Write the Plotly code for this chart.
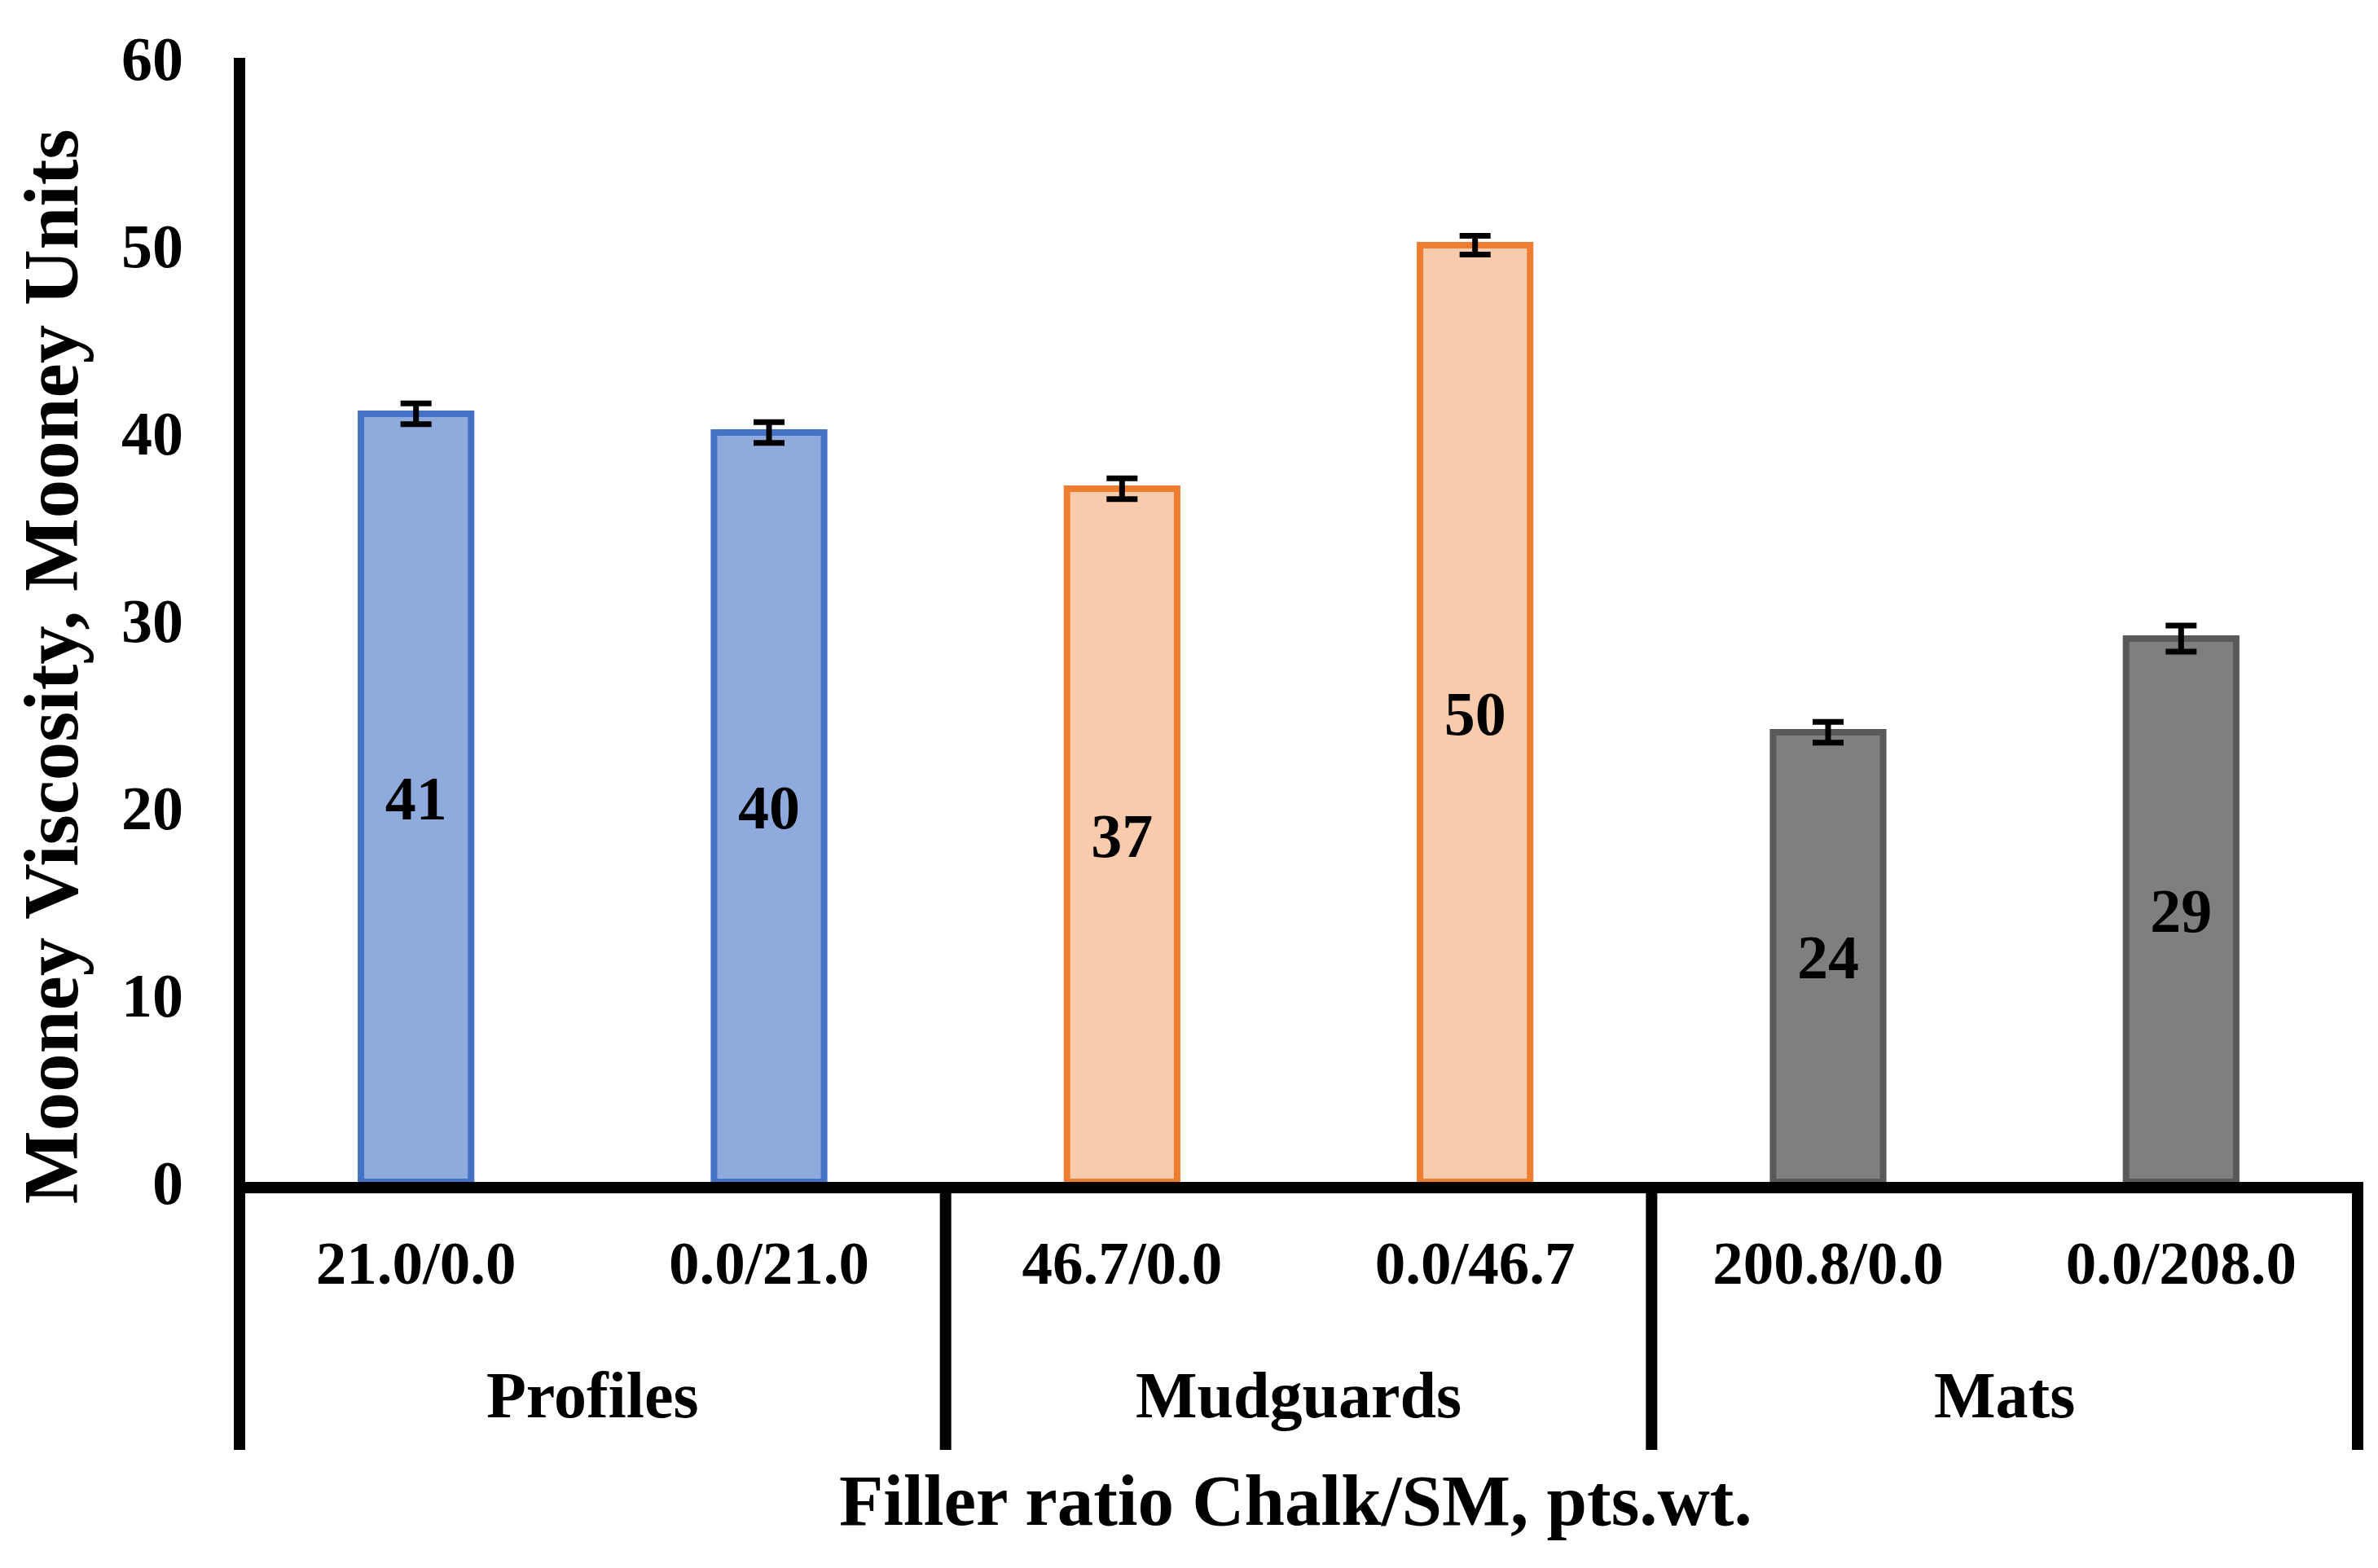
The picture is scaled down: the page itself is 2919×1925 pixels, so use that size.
import plotly.graph_objects as go

# ---------------- data ----------------
ratios = ["21.0/0.0", "0.0/21.0", "46.7/0.0", "0.0/46.7", "200.8/0.0", "0.0/208.0"]
groups = ["Profiles", "Mudguards", "Mats"]
group_of = ["Profiles", "Profiles", "Mudguards", "Mudguards", "Mats", "Mats"]
viscosity = [41, 40, 37, 50, 24, 29]
errors = [0.55, 0.55, 0.55, 0.5, 0.55, 0.7]
y_ticks = [0, 10, 20, 30, 40, 50, 60]

fill_by_group = {"Profiles": "#8FAADC", "Mudguards": "#F8CBAD", "Mats": "#7F7F7F"}
line_by_group = {"Profiles": "#4472C4", "Mudguards": "#ED7D31", "Mats": "#595959"}

FONT = "Liberation Serif"
W, H = 2919, 1925
L, R, T, B = 286, 33, 63, 1925 - 1443
plot_h = H - T - B
plot_w = W - L - R

fig = go.Figure()
fig.add_trace(go.Bar(
    x=ratios,
    y=viscosity,
    width=0.312,
    marker=dict(
        color=[fill_by_group[g] for g in group_of],
        line=dict(color=[line_by_group[g] for g in group_of], width=8),
    ),
    error_y=dict(type="data", array=errors, visible=True,
                 color="black", thickness=7, width=19),
    text=[str(v) for v in viscosity],
    textposition="inside",
    insidetextanchor="middle",
    textangle=0,
    constraintext="none",
    textfont=dict(family=FONT, size=76, color="black", weight="bold"),
    showlegend=False,
))


def py(pix):
    """pixel y (from top of page) -> paper coordinate"""
    return (H - B - pix) / plot_h


def px(pix):
    """pixel x (from left of page) -> paper coordinate"""
    return (pix - L) / plot_w


bottom_paper = py(1772)
n = len(ratios)

# y-axis line (also the left border of the category table)
fig.add_shape(type="line", xref="paper", yref="paper", x0=0, x1=0,
              y0=bottom_paper, y1=1, line=dict(color="black", width=14),
              layer="above")

# group separator lines at category boundaries
for i in range(1, n + 1):
    if i == n or group_of[i] != group_of[i - 1]:
        xp = i / n
        fig.add_shape(type="line", xref="paper", yref="paper", x0=xp, x1=xp,
                      y0=bottom_paper, y1=0, line=dict(color="black", width=14),
                      layer="above")

# group labels
for g in groups:
    idx = [i for i, gg in enumerate(group_of) if gg == g]
    xc = sum(idx) / len(idx)
    fig.add_annotation(x=xc, xref="x", y=py(1705), yref="paper",
                       text=g, showarrow=False, yanchor="middle",
                       font=dict(family=FONT, size=80, color="black", weight="bold"))

# axis titles
fig.add_annotation(x=px(1582), xref="paper", y=py(1834), yref="paper",
                   text="Filler ratio Chalk/SM, pts.wt.", showarrow=False,
                   yanchor="middle", xanchor="center",
                   font=dict(family=FONT, size=89, color="black", weight="bold"))
fig.add_annotation(x=px(55), xref="paper", y=py(811), yref="paper",
                   text="Mooney Viscosity, Mooney Units", showarrow=False,
                   textangle=-90, yanchor="middle", xanchor="center",
                   font=dict(family=FONT, size=95, color="black", weight="bold"))

fig.update_layout(
    width=W, height=H,
    margin=dict(l=L, r=R, t=T, b=B),
    paper_bgcolor="white", plot_bgcolor="white",
    xaxis=dict(type="category", categoryorder="array", categoryarray=ratios,
               range=[-0.5, n - 0.5], showline=True, linecolor="black", linewidth=14,
               ticks="", showgrid=False, zeroline=False, ticklabelstandoff=21,
               tickfont=dict(family=FONT, size=75, color="black", weight="bold")),
    yaxis=dict(range=[0, 60], tickvals=y_ticks, showline=False,
               ticks="", showgrid=False, zeroline=False,
               ticklabelstandoff=68,
               tickfont=dict(family=FONT, size=76, color="black", weight="bold")),
)

fig.write_html("out.html")
